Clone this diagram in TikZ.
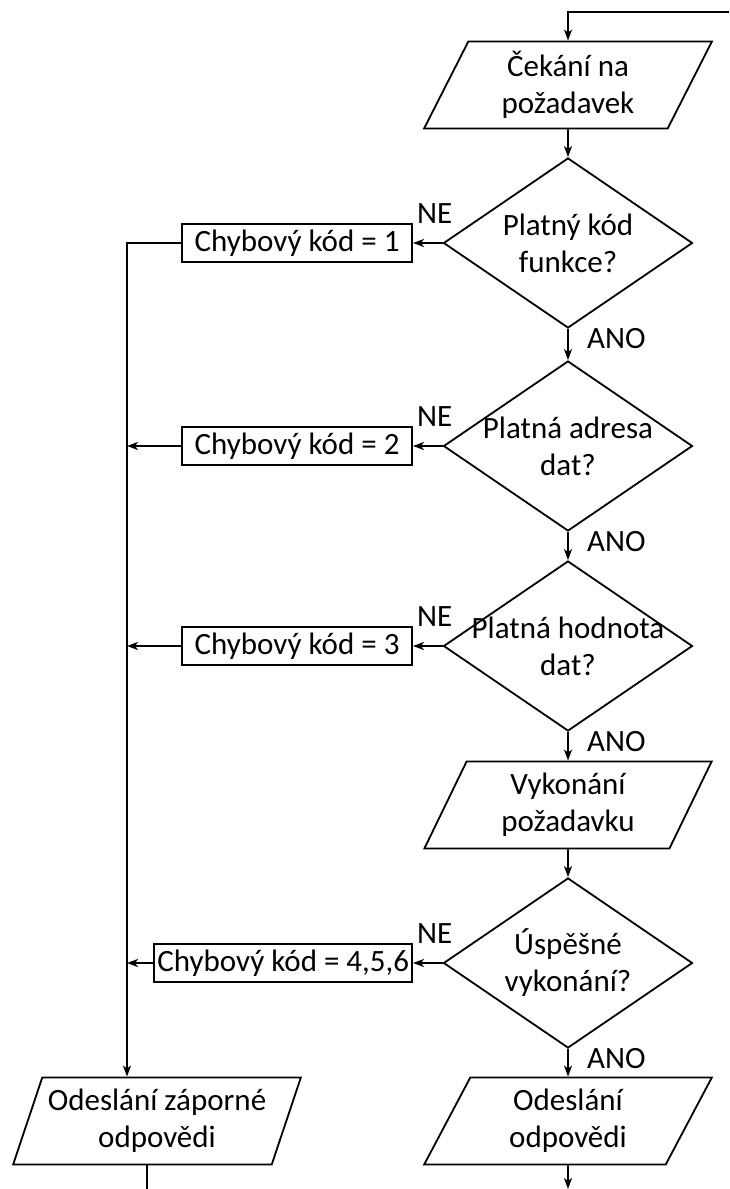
\documentclass[tikz,border=0pt]{standalone}
\usepackage{fontspec}
\setmainfont{Carlito}
\usetikzlibrary{arrows.meta,calc,positioning,shapes.geometric}

\begin{document}
\begin{tikzpicture}[
  x=1pt,
  y=-1pt,
  >={Stealth[length=11pt,width=8pt,inset=3pt]},
  flow/.style={line width=1.8pt},
  io/.style={draw, line width=1.8pt, trapezium, trapezium left angle=66.4, trapezium right angle=113.6, trapezium stretches=true, minimum width=288pt, minimum height=87pt, inner sep=0pt, align=center, font=\fontsize{31}{37}\selectfont},
  decision/.style={draw, line width=1.8pt, diamond, minimum width=249pt, minimum height=170pt, inner sep=0pt},
  dtext/.style={align=center, font=\fontsize{31}{37}\selectfont, inner sep=0pt},
  errbox/.style={draw, line width=1.8pt, minimum width=230pt, minimum height=38pt, inner sep=3pt, font=\fontsize{31}{37}\selectfont, anchor=east},
  tag/.style={font=\fontsize{31}{37}\selectfont, inner sep=0pt, anchor=base west}
]
  \useasboundingbox (0,0) rectangle (729,1189);

  \node[io] (wait) at (568, 85) {Čekání na\\požadavek};
  \node[decision, label={[dtext]center:Platný kód\\funkce?}] (func) at (568, 243) {};
  \node[decision, label={[dtext]center:Platná adresa\\dat?}] (addr) at (568, 446) {};
  \node[decision, label={[dtext]center:Platná hodnota\\dat?}] (val) at (568, 646) {};
  \node[io] (exec) at (568, 805) {Vykonání\\požadavku};
  \node[decision, label={[dtext]center:Úspěšné\\vykonání?}] (done) at (568, 963) {};
  \node[io] (ack) at (568, 1121) {Odeslání\\odpovědi};
  \node[io] (nack) at (157, 1121) {Odeslání záporné\\odpovědi};

  \node[errbox] (err1) at (413, 243) {Chybový kód = 1};
  \node[errbox] (err2) at (413, 446) {Chybový kód = 2};
  \node[errbox] (err3) at (413, 646) {Chybový kód = 3};
  \node[errbox] (err4) at (413, 963) {Chybový kód = 4,5,6};

  \coordinate (loop) at (729, 12);
  \coordinate (bus) at (127, 243);
  \coordinate (nackout) at (147, 1189);
  \coordinate (ackout) at (568, 1189);

  \draw[flow, ->] (loop) -| (wait.north);
  \draw[flow, ->] (wait.south) -- (func.north);
  \draw[flow, ->] (func.south) -- (addr.north);
  \draw[flow, ->] (addr.south) -- (val.north);
  \draw[flow, ->] (val.south) -- (exec.north);
  \draw[flow, ->] (exec.south) -- (done.north);
  \draw[flow, ->] (done.south) -- (ack.north);
  \draw[flow, ->] (ack.south) -- (ackout);
  \draw[flow] (nackout |- nack.south) -- (nackout);

  \draw[flow, ->] (func.west) -- (err1.east);
  \draw[flow, ->] (addr.west) -- (err2.east);
  \draw[flow, ->] (val.west) -- (err3.east);
  \draw[flow, ->] (done.west) -- (err4.east);

  \draw[flow, ->] (err1.west) -- (bus) -- (bus |- nack.north);
  \draw[flow, ->] (err2.west) -- (err2.west -| bus);
  \draw[flow, ->] (err3.west) -- (err3.west -| bus);
  \draw[flow, ->] (err4.west) -- (err4.west -| bus);

  \node[tag] (no1) at ($(err1.east)+(4,-20)$) {NE};
  \node[tag] (no2) at ($(err2.east)+(4,-20)$) {NE};
  \node[tag] (no3) at ($(err3.east)+(4,-20)$) {NE};
  \node[tag] (no4) at ($(err4.east)+(4,-20)$) {NE};

  \node[tag] (yes1) at ($(func.south)+(19,20)$) {ANO};
  \node[tag] (yes2) at ($(addr.south)+(19,20)$) {ANO};
  \node[tag] (yes3) at ($(val.south)+(19,20)$) {ANO};
  \node[tag] (yes4) at ($(done.south)+(19,20)$) {ANO};
\end{tikzpicture}
\end{document}
